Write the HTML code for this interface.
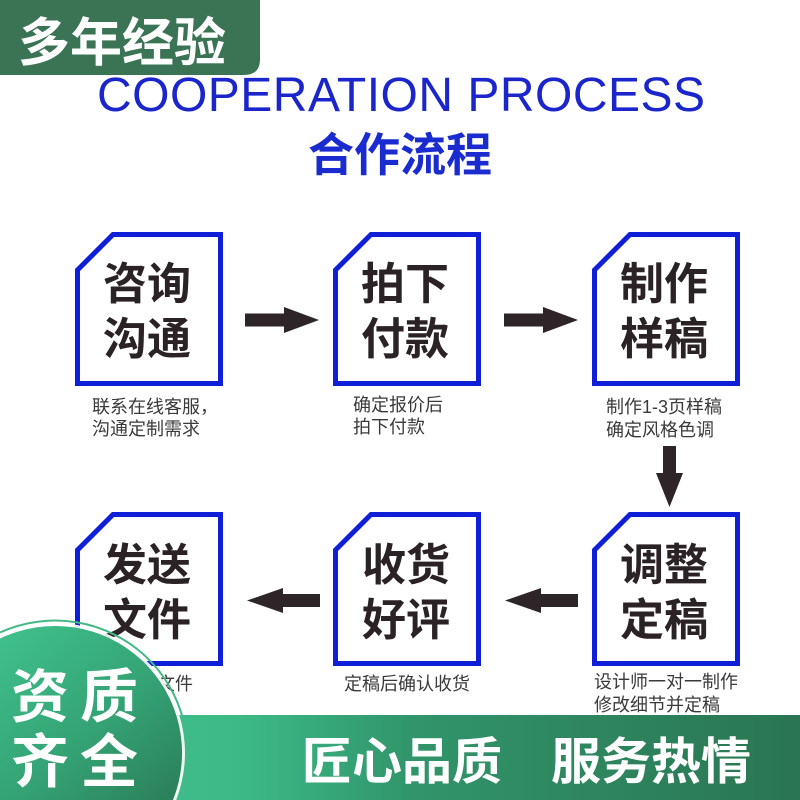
<!DOCTYPE html>
<html>
<head>
<meta charset="utf-8">
<style>
html,body{margin:0;padding:0;background:#fff;width:800px;height:800px;overflow:hidden;}
svg{display:block;position:absolute;left:0;top:0;}
.cjk{font-family:"Liberation Sans","Noto Sans CJK SC","WenQuanYi Zen Hei",sans-serif;}
</style>
</head>
<body>
<svg width="800" height="800" viewBox="0 0 800 800" xmlns="http://www.w3.org/2000/svg" class="cjk" overflow="hidden">
  <defs>
    <linearGradient id="band" x1="0" y1="0" x2="1" y2="0">
      <stop offset="0" stop-color="#41c690"/>
      <stop offset="0.3" stop-color="#3cb987"/>
      <stop offset="0.52" stop-color="#31946a"/>
      <stop offset="1" stop-color="#2a7552"/>
    </linearGradient>
    <linearGradient id="circ" gradientUnits="userSpaceOnUse" x1="-34" y1="651" x2="144" y2="855">
      <stop offset="0" stop-color="#40c28d"/>
      <stop offset="0.55" stop-color="#34a173"/>
      <stop offset="1" stop-color="#2a7853"/>
    </linearGradient>
  </defs>

  <rect x="0" y="0" width="800" height="800" fill="#ffffff"/>

  <!-- top-left banner -->
  <path d="M0,0 H260 V59 Q260,75 244,75 H0 Z" fill="#3a7455"/>
  <text x="18" y="61" font-size="52" font-weight="bold" fill="#ffffff">多年经验</text>

  <!-- title -->
  <text x="97" y="111" font-size="48" fill="#1b25cc" font-family="Liberation Sans, sans-serif" textLength="608" lengthAdjust="spacing">COOPERATION PROCESS</text>
  <text x="308" y="171" font-size="46" font-weight="bold" fill="#1a2bd0">合作流程</text>

  <!-- boxes -->
  <g fill="none" stroke="#0f1fd8" stroke-width="5" stroke-linejoin="miter">
    <path d="M77.5,270 L113,234.5 H220.5 V383.5 H77.5 Z"/>
    <path d="M335.5,270 L371,234.5 H478.5 V383.5 H335.5 Z"/>
    <path d="M594.5,270 L630,234.5 H737.5 V383.5 H594.5 Z"/>
    <path d="M77.5,550 L113,514.5 H220.5 V663.5 H77.5 Z"/>
    <path d="M335.5,550 L371,514.5 H478.5 V663.5 H335.5 Z"/>
    <path d="M594.5,550 L630,514.5 H737.5 V663.5 H594.5 Z"/>
  </g>

  <!-- box texts -->
  <g font-size="44" font-weight="bold" fill="#2a2224">
    <text x="103" y="299">咨询</text>
    <text x="103" y="354">沟通</text>
    <text x="361" y="299">拍下</text>
    <text x="361" y="354">付款</text>
    <text x="620" y="299">制作</text>
    <text x="620" y="354">样稿</text>
    <text x="103" y="580">发送</text>
    <text x="103" y="635">文件</text>
    <text x="362" y="580">收货</text>
    <text x="362" y="635">好评</text>
    <text x="620" y="580">调整</text>
    <text x="620" y="635">定稿</text>
  </g>

  <!-- captions -->
  <g font-size="18" fill="#3a3a3a">
    <text x="92" y="413">联系在线客服，</text>
    <text x="92" y="435">沟通定制需求</text>
    <text x="353" y="411">确定报价后</text>
    <text x="353" y="433">拍下付款</text>
    <text x="606" y="413">制作1-3页样稿</text>
    <text x="606" y="436">确定风格色调</text>
    <text x="103" y="690">交付源文件</text>
    <text x="344" y="690">定稿后确认收货</text>
    <text x="594" y="688">设计师一对一制作</text>
    <text x="594" y="711">修改细节并定稿</text>
  </g>

  <!-- arrows -->
  <g fill="#2d2527">
    <polygon points="245,313.5 284,313.5 284,307 319,320 284,333 284,326.5 245,326.5"/>
    <polygon points="504,313.5 543,313.5 543,307 578,320 543,333 543,326.5 504,326.5"/>
    <polygon points="663,446 676,446 676,473 683,473 669.5,507 656,473 663,473"/>
    <polygon points="578,594 541,594 541,588 505,600.5 541,613 541,607 578,607"/>
    <polygon points="320,594 283,594 283,588 247,600.5 283,613 283,607 320,607"/>
  </g>

  <!-- bottom band -->
  <rect x="0" y="715" width="800" height="85" fill="url(#band)"/>
  <g font-size="50" font-weight="bold" fill="#ffffff">
    <text x="302" y="779">匠心品质</text>
    <text x="551" y="779">服务热情</text>
  </g>

  <!-- circle badge (clipped to page geometrically) -->
  <path d="M0,632.5 A132.5,132.5 0 0 1 178.9,800" fill="none" stroke="#45b886" stroke-width="2"/>
  <path d="M0,635.2 A130,130 0 0 1 176.2,800 L0,800 Z" fill="#ffffff" fill-opacity="0.9"/>
  <path d="M0,638.5 A127,127 0 0 1 173,800 L0,800 Z" fill="url(#circ)"/>
  <g font-size="58" font-weight="bold" fill="#ffffff">
    <text x="11" y="717">资</text>
    <text x="80" y="717">质</text>
    <text x="11" y="782">齐</text>
    <text x="80" y="782">全</text>
  </g>
</svg>
</body>
</html>
